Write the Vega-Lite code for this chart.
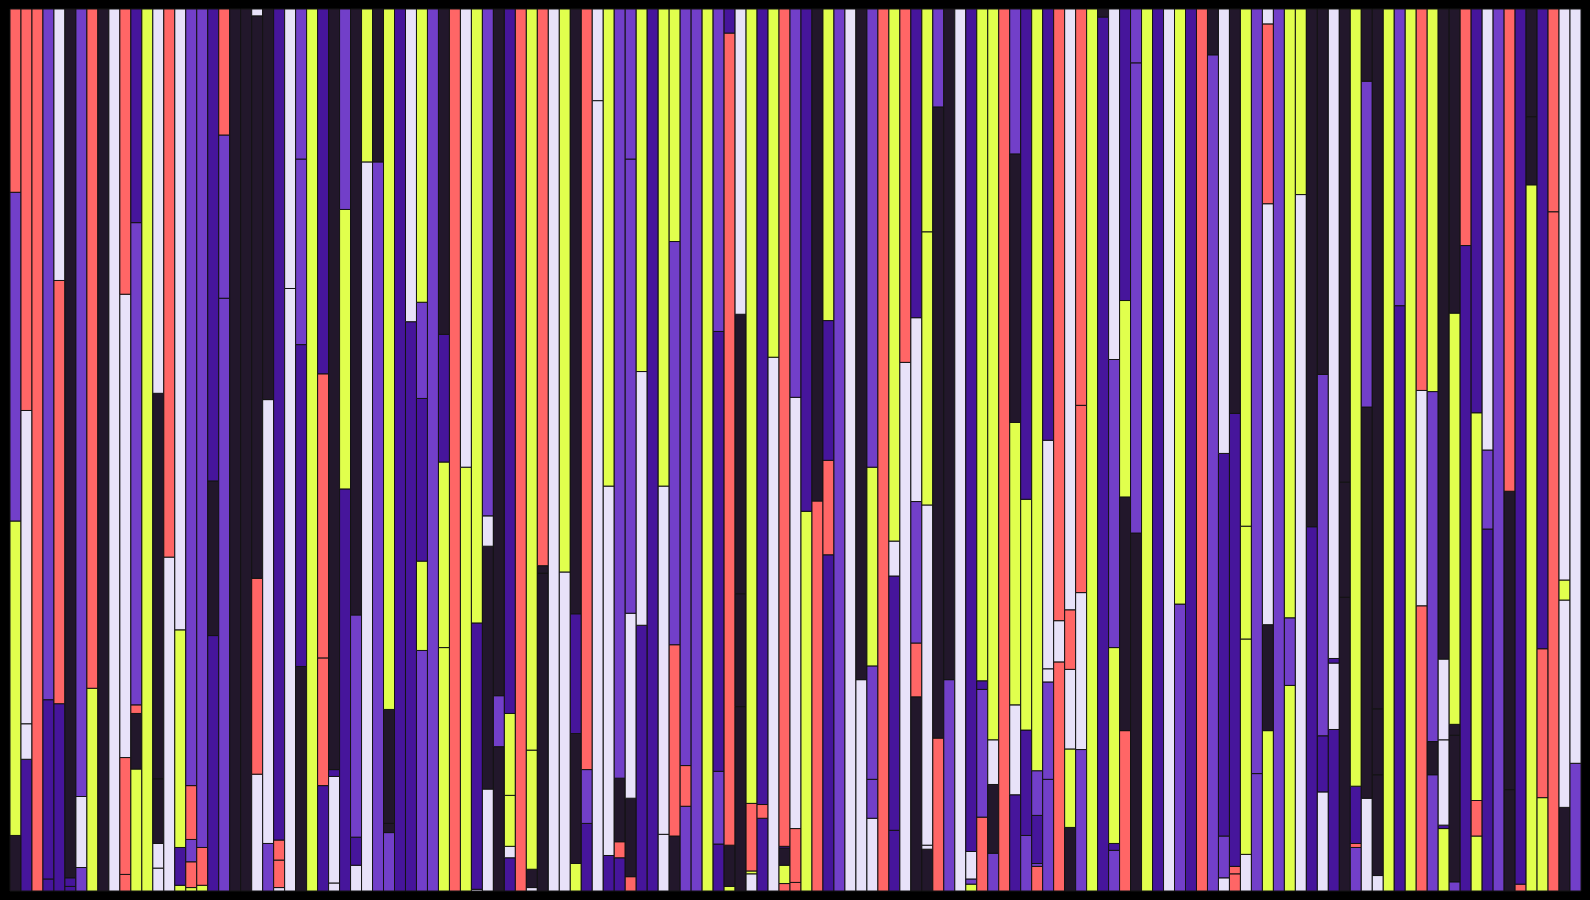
{
"$schema":"https://vega.github.io/schema/vega-lite/v6.json",
"width":1590,"height":900,
"autosize":{"type":"fit","contains":"padding"},
"padding":{"left":9,"right":8,"top":8,"bottom":8},
"background":"#000000",
"view":{"stroke":null},
"data":{"values":[
{"b":1,"s":1,"c":"D","v":97},{"b":1,"s":2,"c":"Y","v":549},{"b":1,"s":3,"c":"P","v":574},{"b":1,"s":4,"c":"S","v":320},
{"b":2,"s":1,"c":"I","v":230},{"b":2,"s":2,"c":"L","v":62},{"b":2,"s":3,"c":"L","v":547},{"b":2,"s":4,"c":"S","v":701},
{"b":3,"s":1,"c":"S","v":1540},
{"b":4,"s":1,"c":"I","v":21},{"b":4,"s":2,"c":"I","v":313},{"b":4,"s":3,"c":"P","v":1206},
{"b":5,"s":1,"c":"I","v":327},{"b":5,"s":2,"c":"S","v":739},{"b":5,"s":3,"c":"L","v":474},
{"b":6,"s":1,"c":"I","v":8},{"b":6,"s":2,"c":"I","v":15},{"b":6,"s":3,"c":"D","v":1517},
{"b":7,"s":1,"c":"P","v":41},{"b":7,"s":2,"c":"L","v":124},{"b":7,"s":3,"c":"P","v":1375},
{"b":8,"s":1,"c":"Y","v":354},{"b":8,"s":2,"c":"S","v":1186},
{"b":9,"s":1,"c":"D","v":1540},
{"b":10,"s":1,"c":"L","v":1540},
{"b":11,"s":1,"c":"S","v":29},{"b":11,"s":2,"c":"S","v":204},{"b":11,"s":3,"c":"L","v":809},{"b":11,"s":4,"c":"S","v":498},
{"b":12,"s":1,"c":"Y","v":213},{"b":12,"s":2,"c":"D","v":97},{"b":12,"s":3,"c":"S","v":15},{"b":12,"s":4,"c":"P","v":842},{"b":12,"s":5,"c":"I","v":373},
{"b":13,"s":1,"c":"Y","v":1540},
{"b":14,"s":1,"c":"L","v":40},{"b":14,"s":2,"c":"L","v":43},{"b":14,"s":3,"c":"D","v":113},{"b":14,"s":4,"c":"D","v":673},{"b":14,"s":5,"c":"L","v":671},
{"b":15,"s":1,"c":"L","v":583},{"b":15,"s":2,"c":"S","v":957},
{"b":16,"s":1,"c":"Y","v":10},{"b":16,"s":2,"c":"I","v":66},{"b":16,"s":3,"c":"Y","v":380},{"b":16,"s":4,"c":"L","v":1084},
{"b":17,"s":1,"c":"Y","v":6},{"b":17,"s":2,"c":"S","v":45},{"b":17,"s":3,"c":"P","v":39},{"b":17,"s":4,"c":"S","v":94},{"b":17,"s":5,"c":"P","v":1356},
{"b":18,"s":1,"c":"Y","v":10},{"b":18,"s":2,"c":"S","v":66},{"b":18,"s":3,"c":"P","v":1464},
{"b":19,"s":1,"c":"I","v":446},{"b":19,"s":2,"c":"D","v":270},{"b":19,"s":3,"c":"I","v":824},
{"b":20,"s":1,"c":"P","v":1035},{"b":20,"s":2,"c":"P","v":285},{"b":20,"s":3,"c":"S","v":220},
{"b":21,"s":1,"c":"D","v":1540},
{"b":22,"s":1,"c":"D","v":1540},
{"b":23,"s":1,"c":"L","v":204},{"b":23,"s":2,"c":"S","v":342},{"b":23,"s":3,"c":"D","v":982},{"b":23,"s":4,"c":"L","v":12},
{"b":24,"s":1,"c":"P","v":83},{"b":24,"s":2,"c":"L","v":775},{"b":24,"s":3,"c":"D","v":682},
{"b":25,"s":1,"c":"L","v":6},{"b":25,"s":2,"c":"S","v":48},{"b":25,"s":3,"c":"S","v":35},{"b":25,"s":4,"c":"I","v":1451},
{"b":26,"s":1,"c":"L","v":1052},{"b":26,"s":2,"c":"L","v":488},
{"b":27,"s":1,"c":"D","v":392},{"b":27,"s":2,"c":"I","v":562},{"b":27,"s":3,"c":"P","v":324},{"b":27,"s":4,"c":"P","v":262},
{"b":28,"s":1,"c":"Y","v":1540},
{"b":29,"s":1,"c":"I","v":184},{"b":29,"s":2,"c":"S","v":223},{"b":29,"s":3,"c":"S","v":496},{"b":29,"s":4,"c":"I","v":637},
{"b":30,"s":1,"c":"L","v":14},{"b":30,"s":2,"c":"L","v":186},{"b":30,"s":3,"c":"I","v":12},{"b":30,"s":4,"c":"D","v":1328},
{"b":31,"s":1,"c":"I","v":702},{"b":31,"s":2,"c":"Y","v":488},{"b":31,"s":3,"c":"P","v":350},
{"b":32,"s":1,"c":"L","v":45},{"b":32,"s":2,"c":"I","v":49},{"b":32,"s":3,"c":"P","v":388},{"b":32,"s":4,"c":"D","v":1058},
{"b":33,"s":1,"c":"L","v":1273},{"b":33,"s":2,"c":"Y","v":267},
{"b":34,"s":1,"c":"P","v":1273},{"b":34,"s":2,"c":"D","v":267},
{"b":35,"s":1,"c":"P","v":102},{"b":35,"s":2,"c":"D","v":16},{"b":35,"s":3,"c":"D","v":199},{"b":35,"s":4,"c":"Y","v":1223},
{"b":36,"s":1,"c":"I","v":1540},
{"b":37,"s":1,"c":"I","v":994},{"b":37,"s":2,"c":"L","v":546},
{"b":38,"s":1,"c":"P","v":420},{"b":38,"s":2,"c":"Y","v":156},{"b":38,"s":3,"c":"I","v":284},{"b":38,"s":4,"c":"P","v":168},{"b":38,"s":5,"c":"Y","v":512},
{"b":39,"s":1,"c":"P","v":1540},
{"b":40,"s":1,"c":"Y","v":425},{"b":40,"s":2,"c":"Y","v":324},{"b":40,"s":3,"c":"I","v":223},{"b":40,"s":4,"c":"D","v":568},
{"b":41,"s":1,"c":"S","v":1540},
{"b":42,"s":1,"c":"Y","v":740},{"b":42,"s":2,"c":"L","v":800},
{"b":43,"s":1,"c":"L","v":3},{"b":43,"s":2,"c":"I","v":465},{"b":43,"s":3,"c":"Y","v":1072},
{"b":44,"s":1,"c":"L","v":178},{"b":44,"s":2,"c":"D","v":424},{"b":44,"s":3,"c":"L","v":53},{"b":44,"s":4,"c":"P","v":885},
{"b":45,"s":1,"c":"D","v":252},{"b":45,"s":2,"c":"P","v":89},{"b":45,"s":3,"c":"D","v":1199},
{"b":46,"s":1,"c":"I","v":58},{"b":46,"s":2,"c":"L","v":20},{"b":46,"s":3,"c":"Y","v":89},{"b":46,"s":4,"c":"Y","v":143},{"b":46,"s":5,"c":"I","v":1230},
{"b":47,"s":1,"c":"S","v":1540},
{"b":48,"s":1,"c":"L","v":6},{"b":48,"s":2,"c":"D","v":32},{"b":48,"s":3,"c":"Y","v":208},{"b":48,"s":4,"c":"Y","v":1294},
{"b":49,"s":1,"c":"D","v":555},{"b":49,"s":2,"c":"D","v":13},{"b":49,"s":3,"c":"S","v":972},
{"b":50,"s":1,"c":"L","v":1540},
{"b":51,"s":1,"c":"L","v":557},{"b":51,"s":2,"c":"Y","v":983},
{"b":52,"s":1,"c":"Y","v":48},{"b":52,"s":2,"c":"D","v":227},{"b":52,"s":3,"c":"I","v":209},{"b":52,"s":4,"c":"D","v":1056},
{"b":53,"s":1,"c":"I","v":118},{"b":53,"s":2,"c":"P","v":94},{"b":53,"s":3,"c":"S","v":1328},
{"b":54,"s":1,"c":"L","v":1380},{"b":54,"s":2,"c":"L","v":160},
{"b":55,"s":1,"c":"I","v":62},{"b":55,"s":2,"c":"L","v":645},{"b":55,"s":3,"c":"Y","v":833},
{"b":56,"s":1,"c":"I","v":58},{"b":56,"s":2,"c":"S","v":28},{"b":56,"s":3,"c":"D","v":111},{"b":56,"s":4,"c":"P","v":1343},
{"b":57,"s":1,"c":"S","v":25},{"b":57,"s":2,"c":"D","v":137},{"b":57,"s":3,"c":"L","v":323},{"b":57,"s":4,"c":"P","v":793},{"b":57,"s":5,"c":"P","v":262},
{"b":58,"s":1,"c":"I","v":464},{"b":58,"s":2,"c":"L","v":443},{"b":58,"s":3,"c":"Y","v":633},
{"b":59,"s":1,"c":"I","v":1540},
{"b":60,"s":1,"c":"L","v":99},{"b":60,"s":2,"c":"L","v":608},{"b":60,"s":3,"c":"Y","v":833},
{"b":61,"s":1,"c":"D","v":96},{"b":61,"s":2,"c":"S","v":334},{"b":61,"s":3,"c":"P","v":704},{"b":61,"s":4,"c":"Y","v":406},
{"b":62,"s":1,"c":"P","v":148},{"b":62,"s":2,"c":"S","v":71},{"b":62,"s":3,"c":"P","v":1321},
{"b":63,"s":1,"c":"P","v":1540},
{"b":64,"s":1,"c":"Y","v":1540},
{"b":65,"s":1,"c":"I","v":82},{"b":65,"s":2,"c":"P","v":127},{"b":65,"s":3,"c":"I","v":768},{"b":65,"s":4,"c":"P","v":563},
{"b":66,"s":1,"c":"Y","v":8},{"b":66,"s":2,"c":"D","v":72},{"b":66,"s":3,"c":"S","v":1418},{"b":66,"s":4,"c":"I","v":42},
{"b":67,"s":1,"c":"D","v":322},{"b":67,"s":2,"c":"D","v":197},{"b":67,"s":3,"c":"D","v":488},{"b":67,"s":4,"c":"L","v":533},
{"b":68,"s":1,"c":"L","v":30},{"b":68,"s":2,"c":"Y","v":5},{"b":68,"s":3,"c":"S","v":118},{"b":68,"s":4,"c":"Y","v":1387},
{"b":69,"s":1,"c":"I","v":127},{"b":69,"s":2,"c":"S","v":24},{"b":69,"s":3,"c":"I","v":1389},
{"b":70,"s":1,"c":"L","v":932},{"b":70,"s":2,"c":"Y","v":608},
{"b":71,"s":1,"c":"S","v":13},{"b":71,"s":2,"c":"Y","v":32},{"b":71,"s":3,"c":"D","v":30},{"b":71,"s":4,"c":"I","v":3},{"b":71,"s":5,"c":"S","v":1462},
{"b":72,"s":1,"c":"S","v":15},{"b":72,"s":2,"c":"S","v":94},{"b":72,"s":3,"c":"L","v":753},{"b":72,"s":4,"c":"P","v":678},
{"b":73,"s":1,"c":"Y","v":663},{"b":73,"s":2,"c":"I","v":877},
{"b":74,"s":1,"c":"S","v":681},{"b":74,"s":2,"c":"D","v":859},
{"b":75,"s":1,"c":"I","v":587},{"b":75,"s":2,"c":"S","v":165},{"b":75,"s":3,"c":"I","v":244},{"b":75,"s":4,"c":"Y","v":544},
{"b":76,"s":1,"c":"P","v":1540},
{"b":77,"s":1,"c":"L","v":1540},
{"b":78,"s":1,"c":"L","v":369},{"b":78,"s":2,"c":"D","v":1171},
{"b":79,"s":1,"c":"L","v":127},{"b":79,"s":2,"c":"P","v":68},{"b":79,"s":3,"c":"P","v":198},{"b":79,"s":4,"c":"Y","v":347},{"b":79,"s":5,"c":"P","v":800},
{"b":80,"s":1,"c":"S","v":1540},
{"b":81,"s":1,"c":"I","v":106},{"b":81,"s":2,"c":"I","v":444},{"b":81,"s":3,"c":"L","v":61},{"b":81,"s":4,"c":"Y","v":929},
{"b":82,"s":1,"c":"L","v":923},{"b":82,"s":2,"c":"S","v":617},
{"b":83,"s":1,"c":"D","v":339},{"b":83,"s":2,"c":"S","v":94},{"b":83,"s":3,"c":"P","v":247},{"b":83,"s":4,"c":"L","v":321},{"b":83,"s":5,"c":"I","v":539},
{"b":84,"s":1,"c":"D","v":73},{"b":84,"s":2,"c":"L","v":7},{"b":84,"s":3,"c":"L","v":594},{"b":84,"s":4,"c":"Y","v":477},{"b":84,"s":5,"c":"Y","v":389},
{"b":85,"s":1,"c":"S","v":267},{"b":85,"s":2,"c":"D","v":1102},{"b":85,"s":3,"c":"P","v":171},
{"b":86,"s":1,"c":"P","v":369},{"b":86,"s":2,"c":"D","v":1171},
{"b":87,"s":1,"c":"L","v":1540},
{"b":88,"s":1,"c":"Y","v":12},{"b":88,"s":2,"c":"P","v":9},{"b":88,"s":3,"c":"L","v":48},{"b":88,"s":4,"c":"I","v":1471},
{"b":89,"s":1,"c":"S","v":129},{"b":89,"s":2,"c":"P","v":223},{"b":89,"s":3,"c":"I","v":15},{"b":89,"s":4,"c":"Y","v":1173},
{"b":90,"s":1,"c":"P","v":66},{"b":90,"s":2,"c":"D","v":120},{"b":90,"s":3,"c":"L","v":78},{"b":90,"s":4,"c":"Y","v":1276},
{"b":91,"s":1,"c":"S","v":1540},
{"b":92,"s":1,"c":"I","v":168},{"b":92,"s":2,"c":"L","v":157},{"b":92,"s":3,"c":"Y","v":493},{"b":92,"s":4,"c":"D","v":469},{"b":92,"s":5,"c":"P","v":253},
{"b":93,"s":1,"c":"P","v":97},{"b":93,"s":2,"c":"I","v":184},{"b":93,"s":3,"c":"Y","v":403},{"b":93,"s":4,"c":"I","v":856},
{"b":94,"s":1,"c":"S","v":43},{"b":94,"s":2,"c":"P","v":5},{"b":94,"s":3,"c":"I","v":84},{"b":94,"s":4,"c":"P","v":78},{"b":94,"s":5,"c":"Y","v":1330},
{"b":95,"s":1,"c":"P","v":195},{"b":95,"s":2,"c":"P","v":170},{"b":95,"s":3,"c":"L","v":23},{"b":95,"s":4,"c":"L","v":399},{"b":95,"s":5,"c":"I","v":753},
{"b":96,"s":1,"c":"S","v":400},{"b":96,"s":2,"c":"L","v":72},{"b":96,"s":3,"c":"S","v":1068},
{"b":97,"s":1,"c":"D","v":111},{"b":97,"s":2,"c":"Y","v":137},{"b":97,"s":3,"c":"L","v":139},{"b":97,"s":4,"c":"S","v":104},{"b":97,"s":5,"c":"L","v":1049},
{"b":98,"s":1,"c":"P","v":247},{"b":98,"s":2,"c":"L","v":274},{"b":98,"s":3,"c":"S","v":327},{"b":98,"s":4,"c":"S","v":692},
{"b":99,"s":1,"c":"Y","v":1540},
{"b":100,"s":1,"c":"I","v":1526},{"b":100,"s":2,"c":"D","v":14},
{"b":101,"s":1,"c":"P","v":71},{"b":101,"s":2,"c":"I","v":12},{"b":101,"s":3,"c":"Y","v":342},{"b":101,"s":4,"c":"P","v":503},{"b":101,"s":5,"c":"L","v":612},
{"b":102,"s":1,"c":"S","v":280},{"b":102,"s":2,"c":"D","v":408},{"b":102,"s":3,"c":"Y","v":343},{"b":102,"s":4,"c":"I","v":509},
{"b":103,"s":1,"c":"D","v":625},{"b":103,"s":2,"c":"P","v":821},{"b":103,"s":3,"c":"P","v":94},
{"b":104,"s":1,"c":"Y","v":1540},
{"b":105,"s":1,"c":"I","v":1540},
{"b":106,"s":1,"c":"L","v":1540},
{"b":107,"s":1,"c":"P","v":501},{"b":107,"s":2,"c":"Y","v":1039},
{"b":108,"s":1,"c":"I","v":1540},
{"b":109,"s":1,"c":"S","v":1540},
{"b":110,"s":1,"c":"P","v":1460},{"b":110,"s":2,"c":"D","v":80},
{"b":111,"s":1,"c":"L","v":23},{"b":111,"s":2,"c":"P","v":73},{"b":111,"s":3,"c":"I","v":668},{"b":111,"s":4,"c":"L","v":776},
{"b":112,"s":1,"c":"S","v":30},{"b":112,"s":2,"c":"S","v":13},{"b":112,"s":3,"c":"I","v":791},{"b":112,"s":4,"c":"D","v":706},
{"b":113,"s":1,"c":"L","v":64},{"b":113,"s":2,"c":"Y","v":376},{"b":113,"s":3,"c":"Y","v":197},{"b":113,"s":4,"c":"Y","v":903},
{"b":114,"s":1,"c":"P","v":205},{"b":114,"s":2,"c":"P","v":1335},
{"b":115,"s":1,"c":"Y","v":280},{"b":115,"s":2,"c":"D","v":185},{"b":115,"s":3,"c":"L","v":735},{"b":115,"s":4,"c":"S","v":314},{"b":115,"s":5,"c":"L","v":26},
{"b":116,"s":1,"c":"P","v":1540},
{"b":117,"s":1,"c":"Y","v":359},{"b":117,"s":2,"c":"P","v":118},{"b":117,"s":3,"c":"Y","v":1063},
{"b":118,"s":1,"c":"L","v":1216},{"b":118,"s":2,"c":"Y","v":324},
{"b":119,"s":1,"c":"I","v":636},{"b":119,"s":2,"c":"D","v":904},
{"b":120,"s":1,"c":"L","v":173},{"b":120,"s":2,"c":"I","v":98},{"b":120,"s":3,"c":"P","v":631},{"b":120,"s":4,"c":"D","v":638},
{"b":121,"s":1,"c":"I","v":282},{"b":121,"s":2,"c":"L","v":116},{"b":121,"s":3,"c":"I","v":8},{"b":121,"s":4,"c":"L","v":1134},
{"b":122,"s":1,"c":"D","v":513},{"b":122,"s":2,"c":"D","v":201},{"b":122,"s":3,"c":"D","v":826},
{"b":123,"s":1,"c":"P","v":76},{"b":123,"s":2,"c":"S","v":7},{"b":123,"s":3,"c":"I","v":100},{"b":123,"s":4,"c":"Y","v":1357},
{"b":124,"s":1,"c":"L","v":162},{"b":124,"s":2,"c":"D","v":683},{"b":124,"s":3,"c":"P","v":569},{"b":124,"s":4,"c":"D","v":126},
{"b":125,"s":1,"c":"L","v":27},{"b":125,"s":2,"c":"D","v":176},{"b":125,"s":3,"c":"D","v":115},{"b":125,"s":4,"c":"D","v":1222},
{"b":126,"s":1,"c":"Y","v":1540},
{"b":127,"s":1,"c":"I","v":1022},{"b":127,"s":2,"c":"P","v":518},
{"b":128,"s":1,"c":"Y","v":1540},
{"b":129,"s":1,"c":"S","v":498},{"b":129,"s":2,"c":"L","v":376},{"b":129,"s":3,"c":"S","v":666},
{"b":130,"s":1,"c":"P","v":203},{"b":130,"s":2,"c":"D","v":58},{"b":130,"s":3,"c":"P","v":611},{"b":130,"s":4,"c":"Y","v":668},
{"b":131,"s":1,"c":"Y","v":109},{"b":131,"s":2,"c":"I","v":6},{"b":131,"s":3,"c":"L","v":149},{"b":131,"s":4,"c":"L","v":141},{"b":131,"s":5,"c":"D","v":1135},
{"b":132,"s":1,"c":"P","v":16},{"b":132,"s":2,"c":"D","v":256},{"b":132,"s":3,"c":"D","v":19},{"b":132,"s":4,"c":"Y","v":718},{"b":132,"s":5,"c":"D","v":531},
{"b":133,"s":1,"c":"I","v":1127},{"b":133,"s":2,"c":"S","v":413},
{"b":134,"s":1,"c":"Y","v":96},{"b":134,"s":2,"c":"S","v":62},{"b":134,"s":3,"c":"Y","v":677},{"b":134,"s":4,"c":"I","v":705},
{"b":135,"s":1,"c":"I","v":632},{"b":135,"s":2,"c":"P","v":138},{"b":135,"s":3,"c":"L","v":770},
{"b":136,"s":1,"c":"P","v":1540},
{"b":137,"s":1,"c":"D","v":177},{"b":137,"s":2,"c":"D","v":521},{"b":137,"s":3,"c":"S","v":842},
{"b":138,"s":1,"c":"S","v":12},{"b":138,"s":2,"c":"I","v":1528},
{"b":139,"s":1,"c":"Y","v":1233},{"b":139,"s":2,"c":"D","v":119},{"b":139,"s":3,"c":"D","v":188},
{"b":140,"s":1,"c":"Y","v":163},{"b":140,"s":2,"c":"S","v":260},{"b":140,"s":3,"c":"I","v":1117},
{"b":141,"s":1,"c":"S","v":1186},{"b":141,"s":2,"c":"S","v":354},
{"b":142,"s":1,"c":"D","v":146},{"b":142,"s":2,"c":"L","v":362},{"b":142,"s":3,"c":"Y","v":35},{"b":142,"s":4,"c":"L","v":997},
{"b":143,"s":1,"c":"P","v":223},{"b":143,"s":2,"c":"L","v":1317}
]},
"mark":{"type":"bar","stroke":"#141414","strokeWidth":1},
"encoding":{
"x":{"field":"b","type":"ordinal","axis":null,"scale":{"paddingInner":0,"paddingOuter":0}},
"y":{"field":"v","type":"quantitative","stack":"normalize","axis":null},
"order":{"field":"s","type":"quantitative","sort":"ascending"},
"color":{"field":"c","type":"nominal","legend":null,"scale":{"domain":["S","P","I","D","L","Y"],"range":["#ff6666","#723fc9","#46159b","#22172b","#e8e2f9","#e1ff4d"]}}
}
}
